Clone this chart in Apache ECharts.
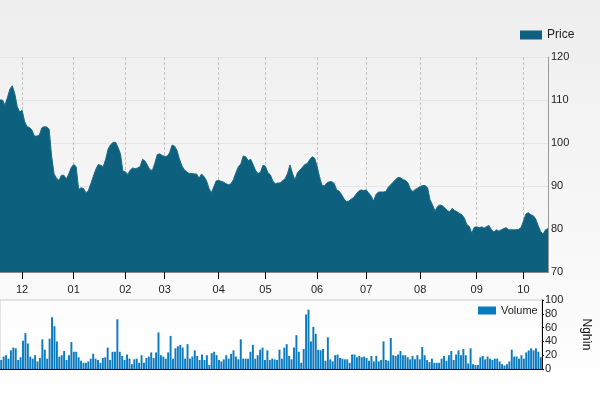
<!DOCTYPE html>
<html>
<head>
<meta charset="utf-8">
<script src="https://cdn.jsdelivr.net/npm/echarts@6/dist/echarts.min.js"></script>
<style>html,body{margin:0;padding:0;}#c{width:600px;height:393px;}</style>
</head>
<body>
<div id="c"></div>
<script>
// Daily closing price (trading days, mid-Nov .. mid-Oct)
const priceValues = [
110,110,108.8,110.5,112.5,113.3,111.5,108.5,107.2,107.6,
105,103.8,103.6,103,101.6,101.6,101.8,103.5,103.8,103.7,
103.2,97,92.8,91.8,91.3,92.5,92.5,91.6,92.8,94.3,
95,94.5,89.2,89.6,89.4,88.4,89,90.6,92.3,93.9,
95,94.8,94.5,96.2,98.6,99.6,100.1,100.2,99,97.5,
93.5,93.3,92.7,93.7,94.2,94,94.2,94.5,96.2,95.8,
94.8,93.8,93.6,95.3,97.3,97.5,97.1,96.9,96.9,97.7,
99.5,99.3,98.3,96.3,94.7,93.8,93.3,92.9,92.9,92.8,
92.8,91.8,92.8,92.2,91.3,89.5,88.4,89.8,91.2,91.3,
91.1,90.9,90.5,90.3,90.5,91.5,93.1,94.5,95.1,97,
96.8,95.9,96.2,95,93.6,92.9,93.2,94.8,94.6,93.1,
92.6,91.2,90.5,90.7,90.7,91.2,91.7,92.9,94.9,93,
91.4,93,93.7,94.3,95,95.2,96.1,96.8,96.5,94.7,
92.2,90.2,90,90.7,91,91,90.6,89.1,88.8,88,
87,86.4,86.5,87,87.3,88.2,88.8,89.1,88.9,89.1,
88.4,87.7,86.5,88,88.6,88.6,88.6,88.7,89.7,90.3,
90.9,91.5,92,91.9,91.5,91.3,90.7,89.3,88.7,89.2,
89.5,89.9,90.1,90.1,89.6,86.8,85.6,84.2,85.2,85.6,
85.4,84.9,84.3,84,84.8,84.3,84,83.6,83.3,82.5,
81,80.6,79,80.4,80.5,80.3,80.5,80.2,80.6,80.8,
79.8,79.3,79.8,79.5,79.8,80.1,80.3,79.8,79.8,79.8,
79.8,79.9,80.3,81.8,83.5,83.8,83.3,83.1,82.3,80.8,
79.4,78.8,79.8,80.1
];
// Daily volume (thousands)
const volumeValues = [
13,18,20,15,27,31,30,13,17,41,
52,37,18,15,20,11,16,43,28,15,
44,75,62,40,18,20,26,13,20,39,
25,25,17,12,9,9,11,15,22,15,
13,9,16,17,31,13,25,25,72,25,
19,13,21,15,7,14,15,9,20,9,
16,18,24,16,24,53,20,18,15,24,
48,15,30,33,35,31,15,36,15,18,
27,19,13,21,13,20,6,23,25,
20,13,11,14,20,15,22,27,18,14,
43,15,15,15,25,35,15,20,28,31,
13,27,13,15,14,13,28,15,31,36,19,14,31,49,
25,9,29,79,86,40,61,51,28,27,
29,12,46,14,11,20,21,16,15,14,
14,9,21,21,17,19,17,18,16,
12,19,11,19,11,13,40,13,12,45,
20,19,21,26,20,20,17,14,19,
14,20,14,32,20,13,10,15,9,9,
9,15,19,12,20,26,13,21,27,20,
29,20,8,30,7,6,6,17,19,14,
18,15,13,15,15,11,7,5,7,
11,28,18,18,15,20,15,24,27,30,
27,30,25,17
];
// Month tick labels and the trading-day index where each month starts
const monthLabels = ['12','01','02','03','04','05','06','07','08','09','10'];
const monthStartIdx = [9,30,51,67,89,108,129,149,171,194,213];
const priceTicks = [70,80,90,100,110,120];
const volumeTicks = [0,20,40,60,80,100];

const categories = priceValues.map((_, i) => String(i));
const isMonth = (i) => monthStartIdx.indexOf(i) >= 0;
const monthFmt = (v, i) => { const k = monthStartIdx.indexOf(Number(v)); return k >= 0 ? monthLabels[k] : ''; };

const chart = echarts.init(document.getElementById('c'), null, {renderer: 'canvas'});
chart.setOption({
  animation: false,
  backgroundColor: new echarts.graphic.LinearGradient(0, 0, 0, 1, [
    {offset: 0, color: '#eeeeee'}, {offset: 0.7, color: '#f9f9f9'}, {offset: 1, color: '#ffffff'}
  ]),
  textStyle: {fontFamily: 'Liberation Sans, Arial, sans-serif'},
  legend: [
    {data: ['Price'], left: 520, top: 29, padding: 0, icon: 'rect', itemWidth: 22, itemHeight: 9, itemGap: 5,
     textStyle: {fontSize: 12, color: '#222'}},
    {data: ['Volume'], left: 478, top: 305, padding: 0, icon: 'rect', itemWidth: 18, itemHeight: 8, itemGap: 5,
     textStyle: {fontSize: 11, color: '#222'}}
  ],
  grid: [
    {left: 0, right: 52, top: 57, height: 215},
    {left: 0, right: 52, top: 300, height: 69, show: true, borderColor: '#cccccc', borderWidth: 1, backgroundColor: 'rgba(255,255,255,0.6)'}
  ],
  xAxis: [
    {type: 'category', gridIndex: 0, data: categories, boundaryGap: false,
     axisLine: {lineStyle: {color: '#8a8a8a', width: 2}},
     axisTick: {show: true, interval: (i) => isMonth(i), length: 7, lineStyle: {color: '#000'}},
     axisLabel: {interval: (i) => isMonth(i), formatter: monthFmt, color: '#222', fontSize: 11, margin: 12},
     splitLine: {show: true, interval: (i) => isMonth(i), lineStyle: {type: [3, 2], color: '#c4c4c4'}}},
    {type: 'category', gridIndex: 1, data: categories, boundaryGap: true,
     axisLine: {lineStyle: {color: '#000', width: 1}}, axisTick: {show: false}, axisLabel: {show: false}, splitLine: {show: false}}
  ],
  yAxis: [
    {type: 'value', gridIndex: 0, position: 'right', min: priceTicks[0], max: priceTicks[priceTicks.length - 1], interval: 10,
     axisLine: {show: true, lineStyle: {color: '#999', width: 1}}, axisTick: {show: false},
     axisLabel: {color: '#222', fontSize: 11, margin: 3},
     splitLine: {show: true, lineStyle: {color: '#e6e6e6'}}},
    {type: 'value', gridIndex: 1, position: 'right', min: volumeTicks[0], max: volumeTicks[volumeTicks.length - 1], interval: 20,
     axisLine: {show: true, lineStyle: {color: '#000', width: 1}}, axisTick: {show: true, length: 2, lineStyle: {color: '#000'}},
     axisLabel: {color: '#222', fontSize: 11, margin: 3},
     splitLine: {show: false},
     name: 'Nghìn', nameLocation: 'middle', nameRotate: -90, nameGap: 38,
     nameTextStyle: {fontSize: 12, color: '#111'}}
  ],
  series: [
    {name: 'Price', type: 'line', xAxisIndex: 0, yAxisIndex: 0, data: priceValues,
     showSymbol: false, symbol: 'none', color: '#0e617e',
     lineStyle: {color: '#1a6a86', width: 1}, areaStyle: {color: '#0e617e', opacity: 1}},
    {name: 'Volume', type: 'bar', xAxisIndex: 1, yAxisIndex: 1, data: volumeValues,
     color: '#0a7bc1', barWidth: '80%'}
  ]
});
</script>
</body>
</html>
